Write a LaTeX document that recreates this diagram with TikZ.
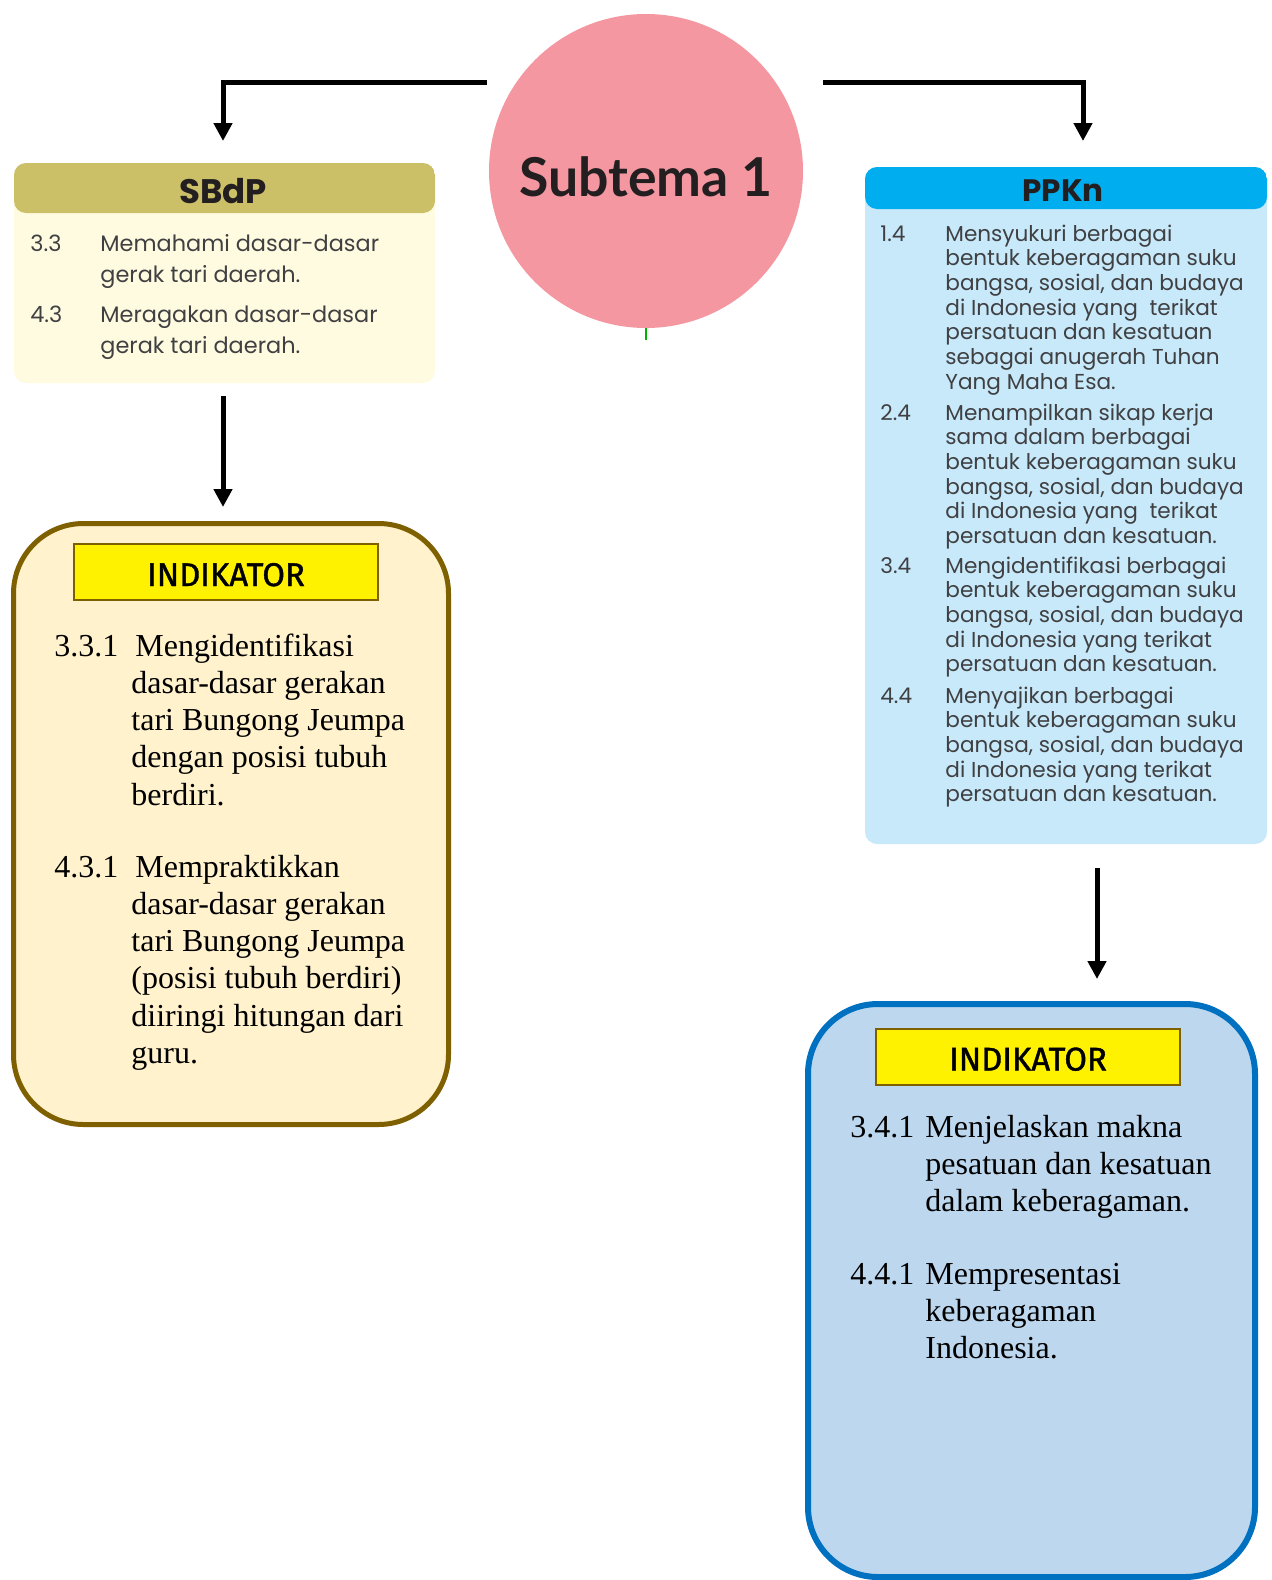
\documentclass[tikz,border=0pt]{standalone}
\usepackage{fontspec}
\setmainfont{Liberation Serif}
\newfontfamily\bukuFont{Poppins}
\newfontfamily\subtemaFont{Lato}
\newfontfamily\labelFont[FakeBold=1.2]{Fira Sans}
\usetikzlibrary{positioning,arrows.meta}
\definecolor{subtemaPink}{RGB}{244,151,161}
\definecolor{sbdpHead}{RGB}{203,192,104}
\definecolor{sbdpBody}{RGB}{255,251,224}
\definecolor{ppknHead}{RGB}{0,174,239}
\definecolor{ppknBody}{RGB}{199,233,250}
\definecolor{indBrown}{RGB}{127,96,0}
\definecolor{indCream}{RGB}{255,242,204}
\definecolor{indBlue}{RGB}{0,112,192}
\definecolor{indSky}{RGB}{189,215,238}
\definecolor{bookGray}{RGB}{64,64,66}
\definecolor{titleDark}{RGB}{35,31,32}
\tikzstyle{arrowLine} = [line width=2.5pt, -{Triangle[length=9pt, width=9pt]}]
\tikzstyle{cardStyle} = [rounded corners=6pt, inner sep=0]
\tikzstyle{cardTitle} = [font=\bukuFont\bfseries\fontsize{17}{20}\selectfont, text=titleDark, inner sep=0]
\tikzstyle{indBox} = [rounded corners=35pt, inner sep=0]
\tikzstyle{indLabel} = [draw=indBrown, fill=yellow, line width=1pt, minimum width=152pt, minimum height=28pt, inner sep=0, font=\labelFont\fontsize{16.4}{19}\selectfont]
\tikzstyle{sbdpText} = [anchor=base west, inner sep=0, text=bookGray, font=\bukuFont\fontsize{11.2}{15.5}\selectfont]
\tikzstyle{ppknText} = [anchor=base west, inner sep=0, text=bookGray, font=\bukuFont\fontsize{10.8}{12.35}\selectfont]
\tikzstyle{indText} = [anchor=base west, inner sep=0, text=black, font=\fontsize{16}{18.65}\selectfont]
\newcommand{\kdItem}[6]{\node [#2] (#1) at (#3) {\begin{tabular}[t]{@{}p{#4}@{}l@{}}#5 & #6\end{tabular}};}
\newcommand{\headBand}[2]{\fill [#1] (path picture bounding box.north west) rectangle ([yshift=-#2]path picture bounding box.north east);}
\newcommand{\dropText}[2]{\raisebox{-#1}[0pt][0pt]{#2}}

\begin{document}
\begin{tikzpicture}[x=0.5pt, y=-0.5pt]
  \useasboundingbox (0,0) rectangle (1272,1580);
  \clip (0,0) rectangle (1272,1580);

  % subtema in the middle
  \node [circle, fill=subtemaPink, minimum size=157pt, inner sep=0, text=titleDark,
         font=\subtemaFont\bfseries\fontsize{26.8}{30}\selectfont] (subtema) at (646,171) {\dropText{12.5pt}{Subtema 1}};
  \draw [green!70!black, line width=1pt] (subtema.south) -- +(0,12);

  % cards from the book
  \node [cardStyle, fill=sbdpBody, minimum width=210.5pt, minimum height=110pt,
         path picture={\headBand{sbdpHead}{25pt}}] (sbdp) at (224.5,273) {};
  \node [cardTitle] (sbdpTitle) at (223,191) {SBdP};
  \kdItem{kd33}{sbdpText}{30,251}{35pt}{3.3}{Memahami dasar-dasar\\ & gerak tari daerah.}
  \kdItem{kd43}{sbdpText}{30,322}{35pt}{4.3}{Meragakan dasar-dasar\\ & gerak tari daerah.}

  \node [cardStyle, fill=ppknBody, minimum width=201pt, minimum height=338.5pt,
         path picture={\headBand{ppknHead}{21pt}}] (ppkn) at (1066,505.5) {};
  \node [cardTitle, font=\bukuFont\bfseries\fontsize{15.5}{18}\selectfont] (ppknTitle) at (1063,191) {PPKn};
  \kdItem{kd14}{ppknText}{880,241}{32.5pt}{1.4}{Mensyukuri berbagai\\ & bentuk keberagaman suku\\ & bangsa, sosial, dan budaya\\ & di Indonesia yang\ \ terikat\\ & persatuan dan kesatuan\\ & sebagai anugerah Tuhan\\ & Yang Maha Esa.}
  \kdItem{kd24}{ppknText}{880,420}{32.5pt}{2.4}{Menampilkan sikap kerja\\ & sama dalam berbagai\\ & bentuk keberagaman suku\\ & bangsa, sosial, dan budaya\\ & di Indonesia yang\ \ terikat\\ & persatuan dan kesatuan.}
  \kdItem{kd34}{ppknText}{880,573}{32.5pt}{3.4}{Mengidentifikasi berbagai\\ & bentuk keberagaman suku\\ & bangsa, sosial, dan budaya\\ & di Indonesia yang terikat\\ & persatuan dan kesatuan.}
  \kdItem{kd44}{ppknText}{880,703}{32.5pt}{4.4}{Menyajikan berbagai\\ & bentuk keberagaman suku\\ & bangsa, sosial, dan budaya\\ & di Indonesia yang terikat\\ & persatuan dan kesatuan.}

  % indikator boxes
  \node [indBox, draw=indBrown, fill=indCream, line width=2.5pt, minimum width=217.5pt, minimum height=300.5pt] (sbdpInd) at (231,824) {};
  \node [indLabel] (sbdpIndLabel) at (226,572) {\dropText{7pt}{INDIKATOR}};
  \kdItem{ind331}{indText}{54,656}{38.5pt}{3.3.1}{\hspace{2pt}Mengidentifikasi\\ & dasar-dasar gerakan\\ & tari Bungong Jeumpa\\ & dengan posisi tubuh\\ & berdiri.}
  \kdItem{ind431}{indText}{54,877}{38.5pt}{4.3.1}{\hspace{2pt}Mempraktikkan\\ & dasar-dasar gerakan\\ & tari Bungong Jeumpa\\ & (posisi tubuh berdiri)\\ & diiringi hitungan dari\\ & guru.}

  \node [indBox, draw=indBlue, fill=indSky, line width=3pt, minimum width=223.5pt, minimum height=286.5pt] (ppknInd) at (1031.5,1290.5) {};
  \node [indLabel] (ppknIndLabel) at (1028,1056.5) {\dropText{7pt}{INDIKATOR}};
  \kdItem{ind341}{indText}{850,1137}{37.5pt}{3.4.1}{Menjelaskan makna\\ & pesatuan dan kesatuan\\ & dalam keberagaman.}
  \kdItem{ind441}{indText}{850,1284}{37.5pt}{4.4.1}{Mempresentasi\\ & keberagaman\\ & Indonesia.}

  % arrows
  \coordinate (hubLeft) at (487,82);
  \coordinate (hubRight) at (823,82);
  \coordinate (sbdpIn) at (223,141);
  \coordinate (ppknIn) at (1083,141);
  \coordinate (sbdpOut) at (223,396);
  \coordinate (sbdpIndIn) at (223,507);
  \coordinate (ppknOut) at (1097,868);
  \coordinate (ppknIndIn) at (1097,979);
  \draw [arrowLine] (hubLeft) -| (sbdpIn);
  \draw [arrowLine] (hubRight) -| (ppknIn);
  \draw [arrowLine] (sbdpOut) -- (sbdpIndIn);
  \draw [arrowLine] (ppknOut) -- (ppknIndIn);
\end{tikzpicture}
\end{document}
